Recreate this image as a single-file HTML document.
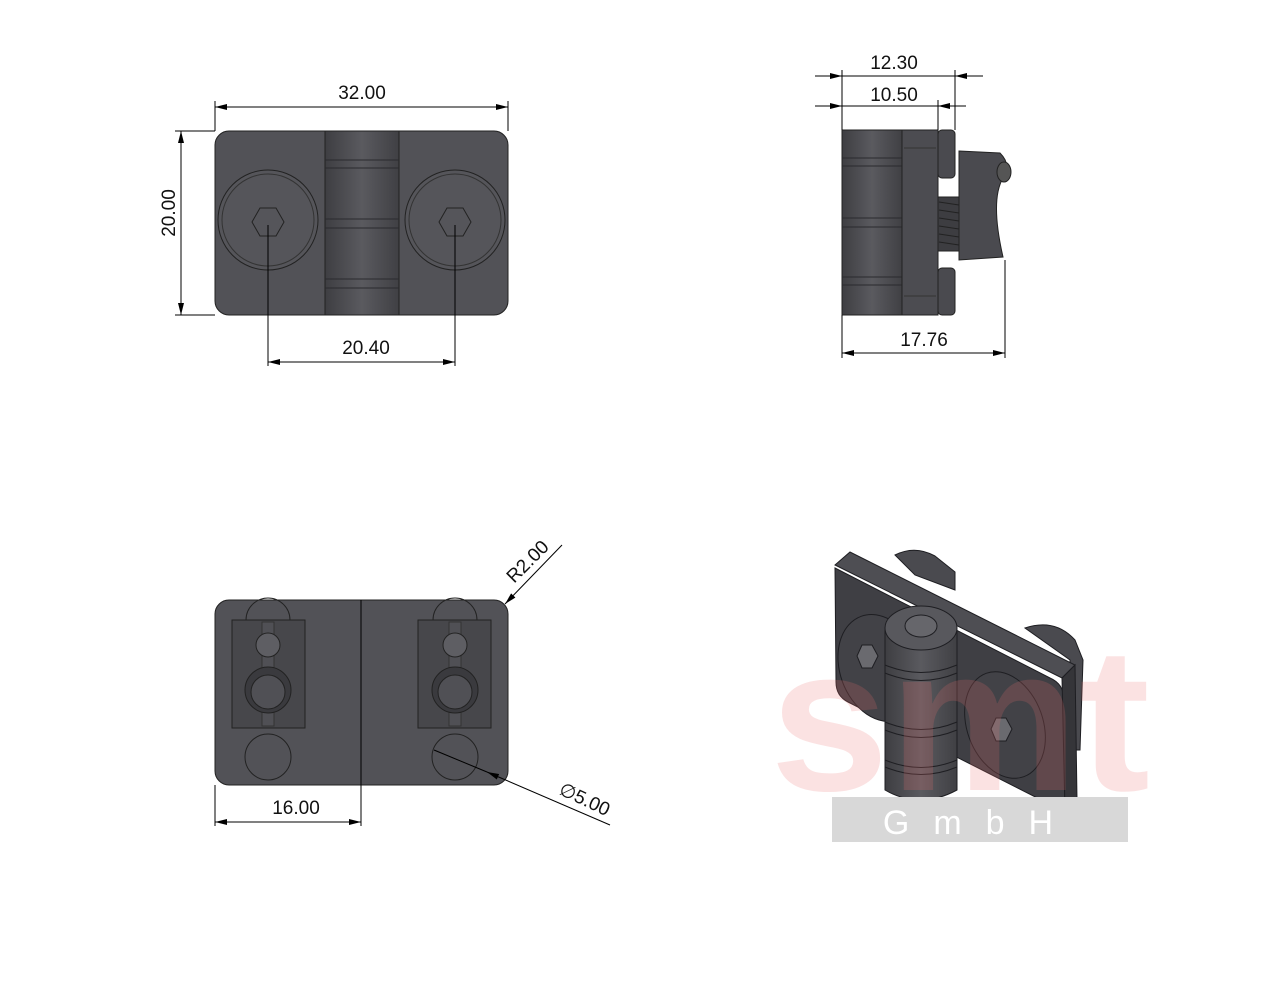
<!DOCTYPE html>
<html><head><meta charset="utf-8"><style>html,body{margin:0;padding:0;background:#fff}svg{display:block}</style></head>
<body>
<svg width="1280" height="989" viewBox="0 0 1280 989" xmlns="http://www.w3.org/2000/svg" font-family="Liberation Sans, sans-serif">
<defs>
<marker id="a" viewBox="0 0 12 6" refX="12" refY="3" markerWidth="12" markerHeight="6" orient="auto-start-reverse" markerUnits="userSpaceOnUse"><path d="M0,0 L12,3 L0,6z" fill="#000"/></marker>
<linearGradient id="bar" x1="0" x2="1"><stop offset="0" stop-color="#3e3e42"/><stop offset="0.5" stop-color="#5a5a5f"/><stop offset="1" stop-color="#404044"/></linearGradient>
</defs>
<g stroke="#000" stroke-width="1" fill="none">
<!-- TOP VIEW -->
<rect x="215" y="131" width="293" height="184" rx="14" fill="#525257" stroke="#222"/>
<rect x="325" y="131" width="74" height="184" fill="url(#bar)" stroke="#222"/>
<g stroke="#2a2a2e"><line x1="325" y1="160" x2="399" y2="160"/><line x1="325" y1="168" x2="399" y2="168"/><line x1="325" y1="219" x2="399" y2="219"/><line x1="325" y1="228" x2="399" y2="228"/><line x1="325" y1="279" x2="399" y2="279"/><line x1="325" y1="288" x2="399" y2="288"/></g>
<circle cx="268" cy="220" r="50" fill="#55555a" stroke="#222"/><circle cx="268" cy="220" r="46" stroke="#333"/>
<circle cx="455" cy="220" r="50" fill="#55555a" stroke="#222"/><circle cx="455" cy="220" r="46" stroke="#333"/>
<polygon points="252,222 260,208 276,208 284,222 276,236 260,236" stroke="#222"/>
<polygon points="439,222 447,208 463,208 471,222 463,236 447,236" stroke="#222"/>
<line x1="268" y1="225" x2="268" y2="366"/><line x1="455" y1="225" x2="455" y2="366"/>
<line x1="215" y1="131" x2="215" y2="101"/><line x1="508" y1="131" x2="508" y2="101"/>
<line x1="215" y1="107" x2="508" y2="107" marker-start="url(#a)" marker-end="url(#a)"/>
<line x1="215" y1="131" x2="175" y2="131"/><line x1="215" y1="315" x2="175" y2="315"/>
<line x1="181" y1="131" x2="181" y2="315" marker-start="url(#a)" marker-end="url(#a)"/>
<line x1="268" y1="362" x2="455" y2="362" marker-start="url(#a)" marker-end="url(#a)"/>
<!-- SIDE VIEW -->
<rect x="842" y="130" width="60" height="185" fill="url(#bar)" stroke="#222"/>
<g stroke="#2a2a2e"><line x1="842" y1="158" x2="902" y2="158"/><line x1="842" y1="166" x2="902" y2="166"/><line x1="842" y1="218" x2="902" y2="218"/><line x1="842" y1="227" x2="902" y2="227"/><line x1="842" y1="277" x2="902" y2="277"/><line x1="842" y1="285" x2="902" y2="285"/></g>
<rect x="902" y="130" width="36" height="185" fill="#4c4c51" stroke="#222"/>
<line x1="904" y1="148" x2="936" y2="148" stroke="#333"/><line x1="904" y1="296" x2="936" y2="296" stroke="#333"/>
<rect x="938" y="130" width="17" height="48" rx="4" fill="#4a4a4f" stroke="#222"/>
<rect x="938" y="268" width="17" height="47" rx="4" fill="#4a4a4f" stroke="#222"/>
<rect x="938" y="197" width="22" height="54" fill="#3d3d41" stroke="#222"/>
<g stroke="#222"><line x1="939" y1="202" x2="959" y2="205"/><line x1="939" y1="210" x2="959" y2="213"/><line x1="939" y1="218" x2="959" y2="221"/><line x1="939" y1="226" x2="959" y2="229"/><line x1="939" y1="234" x2="959" y2="237"/><line x1="939" y1="242" x2="959" y2="245"/></g>
<path d="M959,151 L1000,153 Q1012,165 1003,178 Q990,200 1003,257 L959,260 Z" fill="#4a4a4f" stroke="#222"/>
<ellipse cx="1004" cy="172" rx="7" ry="10" fill="#555" stroke="#222"/>
<line x1="842" y1="130" x2="842" y2="70"/><line x1="955" y1="130" x2="955" y2="70"/><line x1="938" y1="130" x2="938" y2="100"/>
<line x1="815" y1="76" x2="842" y2="76" marker-end="url(#a)"/><line x1="983" y1="76" x2="955" y2="76" marker-end="url(#a)"/><line x1="842" y1="76" x2="955" y2="76"/>
<line x1="815" y1="106" x2="842" y2="106" marker-end="url(#a)"/><line x1="966" y1="106" x2="938" y2="106" marker-end="url(#a)"/><line x1="842" y1="106" x2="938" y2="106"/>
<line x1="842" y1="315" x2="842" y2="358"/><line x1="1005" y1="260" x2="1005" y2="358"/>
<line x1="842" y1="353" x2="1005" y2="353" marker-start="url(#a)" marker-end="url(#a)"/>
<!-- BOTTOM VIEW -->
<rect x="215" y="600" width="293" height="185" rx="14" fill="#525257" stroke="#222"/>
<line x1="361" y1="600" x2="361" y2="826"/>
<path d="M246,620 A22,22 0 0 1 290,620" stroke="#222"/><path d="M433,620 A22,22 0 0 1 477,620" stroke="#222"/>
<rect x="232" y="620" width="73" height="108" fill="#47474b" stroke="#222"/>
<rect x="418" y="620" width="73" height="108" fill="#47474b" stroke="#222"/>
<rect x="262" y="622" width="12" height="104" fill="#505055" stroke="#333"/>
<rect x="449" y="622" width="12" height="104" fill="#505055" stroke="#333"/>
<circle cx="268" cy="645" r="12" fill="#5e5e63" stroke="#222"/><circle cx="455" cy="645" r="12" fill="#5e5e63" stroke="#222"/>
<circle cx="268" cy="690" r="23" fill="#3a3a3e" stroke="#222"/><circle cx="268" cy="692" r="17" fill="#505055" stroke="#222"/>
<circle cx="455" cy="690" r="23" fill="#3a3a3e" stroke="#222"/><circle cx="455" cy="692" r="17" fill="#505055" stroke="#222"/>
<circle cx="268" cy="757" r="23" stroke="#222"/><circle cx="455" cy="757" r="23" stroke="#222"/>
<line x1="215" y1="785" x2="215" y2="826"/>
<line x1="215" y1="822" x2="361" y2="822" marker-start="url(#a)" marker-end="url(#a)"/>
<line x1="562" y1="545" x2="505" y2="604" marker-end="url(#a)"/>
<line x1="610" y1="825" x2="487" y2="772" marker-end="url(#a)"/><line x1="487" y1="772" x2="434" y2="750"/>
</g>
<g font-size="19" fill="#111" text-anchor="middle">
<text x="362" y="99">32.00</text>
<text x="0" y="0" transform="translate(175,213) rotate(-90)">20.00</text>
<text x="366" y="354">20.40</text>
<text x="894" y="69">12.30</text>
<text x="894" y="101">10.50</text>
<text x="924" y="346">17.76</text>
<text x="296" y="814">16.00</text>
<text x="0" y="0" transform="translate(532,566) rotate(-45)">R2.00</text>
<text x="0" y="0" transform="translate(582,805) rotate(25)">∅5.00</text>
</g>
<!-- ISO VIEW -->
<g stroke="#1e1e22" stroke-width="1">
<path d="M895,555 Q915,545 935,556 L955,572 L955,590 L915,575 Z" fill="#4a4a4f"/>
<path d="M1025,628 Q1055,618 1075,640 L1083,660 L1080,750 L1070,750 L1070,660 Z" fill="#4a4a4f"/>
<polygon points="835,565 850,552 1075,665 1062,678" fill="#4e4e53"/>
<path d="M835,568 L1050,678 Q1064,684 1064,700 L1065,812 L848,702 Q836,696 836,682 Z" fill="#3f3f44"/>
<polygon points="1062,678 1075,665 1077,800 1065,812" fill="#353539"/>
<ellipse cx="880" cy="668" rx="40" ry="55" transform="rotate(-20 880 668)" fill="#424247"/>
<ellipse cx="1005" cy="725" rx="38" ry="55" transform="rotate(-20 1005 725)" fill="#424247"/>
<polygon points="862,645 872,645 878,656 872,668 862,668 857,656" fill="#6a6a6f"/>
<polygon points="996,718 1006,718 1012,729 1006,741 996,741 991,729" fill="#6a6a6f"/>
<path d="M885,630 L885,790 Q920,810 957,790 L957,630 Z" fill="url(#bar)"/>
<ellipse cx="921" cy="628" rx="36" ry="22" fill="#58585d"/>
<ellipse cx="921" cy="626" rx="16" ry="11" fill="#66666b"/>
<path d="M885,665 Q921,680 957,665 M885,673 Q921,688 957,673 M885,722 Q921,737 957,722 M885,730 Q921,745 957,730 M885,760 Q921,775 957,760 M885,767 Q921,782 957,767" fill="none"/>
</g>
<text x="770" y="790" font-size="205" font-weight="bold" fill="rgb(235,110,110)" fill-opacity="0.2" textLength="380" lengthAdjust="spacingAndGlyphs">smt</text>
<rect x="832" y="797" width="296" height="45" fill="#d8d8d8"/>
<text x="980" y="834" font-size="34" fill="#fff" text-anchor="middle" letter-spacing="24">GmbH</text>
</svg>
</body></html>
